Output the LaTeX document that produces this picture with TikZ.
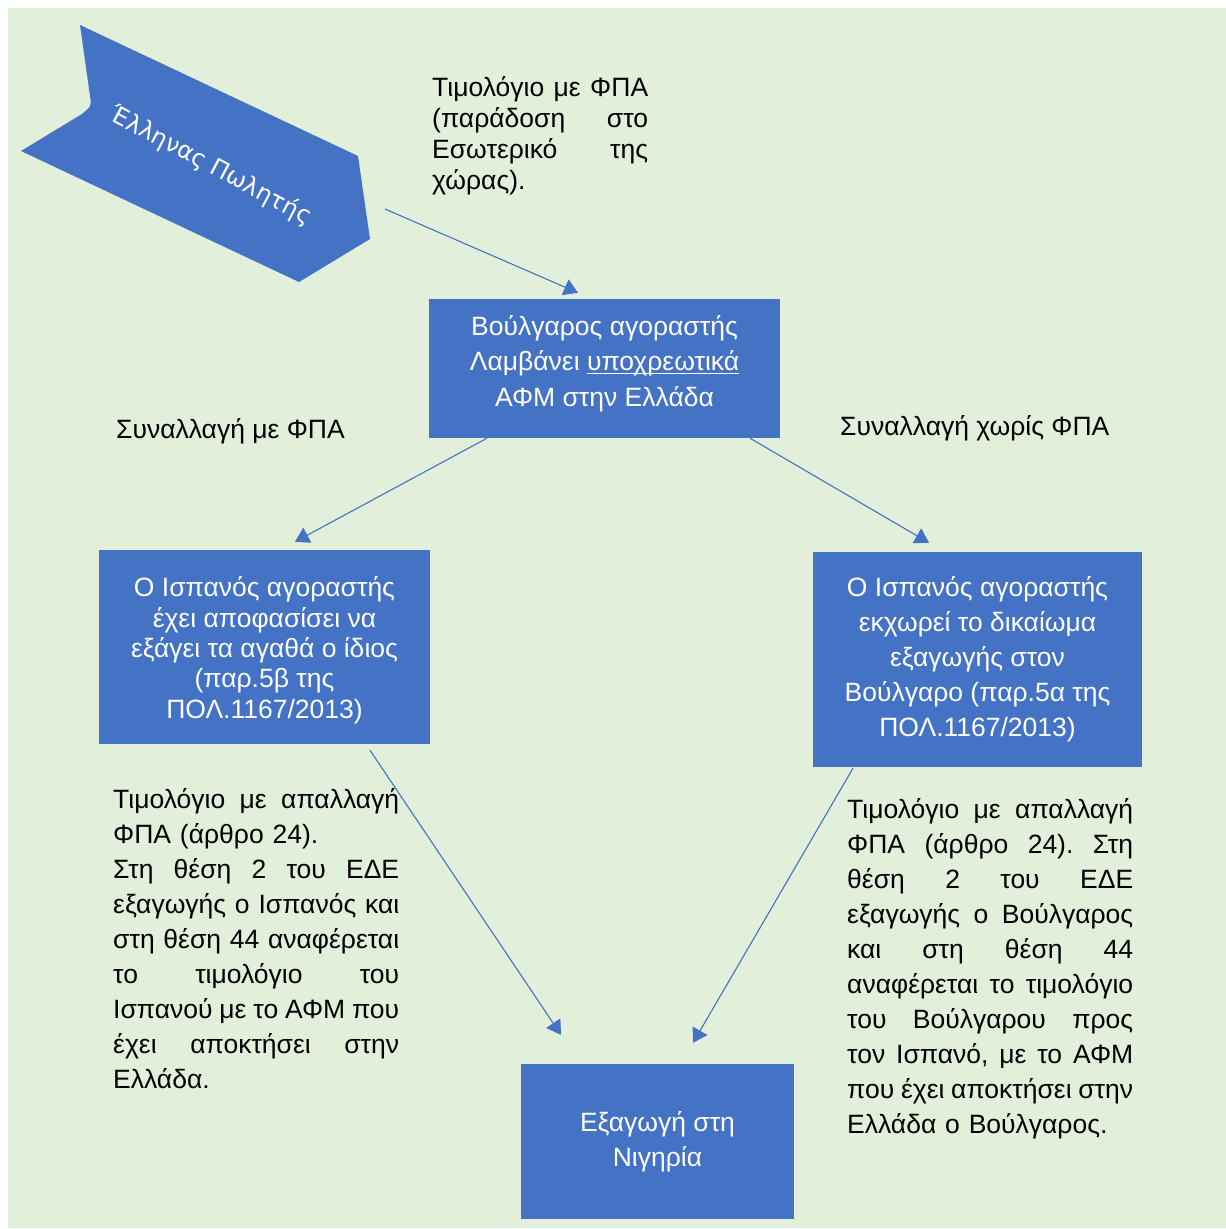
\documentclass[tikz,border=0pt]{standalone}
\usepackage{fontspec}
\setmainfont{Liberation Sans}
\newfontfamily\chevfont{DejaVu Sans}
\usetikzlibrary{arrows.meta,calc}
\definecolor{boxblue}{HTML}{4472C4}
\definecolor{bggreen}{HTML}{E2EFDA}
\frenchspacing
\newcommand\jl[2]{{\frenchspacing\spaceskip=0pt\xspaceskip=0pt\makebox[#1][s]{#2}}}
\newcommand\ulx[1]{\setbox0\hbox{#1}\rlap{\rule[-3.5pt]{\wd0}{1.4pt}}#1}
\begin{document}
\begin{tikzpicture}[x=1pt,y=-1pt,
  box/.style={fill=boxblue, text=white, inner sep=0pt, align=center},
  lbl/.style={text=black, inner sep=0pt, align=left, font=\fontsize{26.5}{35}\selectfont},
  arr/.style={draw=boxblue, line width=1.1pt, -{Triangle[length=14pt,width=17pt]}}]
\useasboundingbox (0,0) rectangle (1226,1229);
\fill[white] (0,0) rectangle (1226,1229);
\fill[bggreen] (8,8) rectangle (1226,1228);

% seller chevron
\fill[boxblue] (80,25) -- (90,96) .. controls (91.5,106) .. (82,114) -- (21,151) -- (299,282) -- (370,239) -- (358,156) -- cycle;
\node[text=white, inner sep=0pt, font=\chevfont\fontsize{24}{28}\selectfont, rotate=-28] (seller) at (211,166) {Έλληνας Πωλητής};

% boxes
\node[box, minimum width=351pt, minimum height=139pt, font=\fontsize{26.5}{35.5}\selectfont] (top) at (604.5,368.5)
  {\strut Βούλγαρος αγοραστής\\Λαμβάνει \ulx{υποχρεωτικά}\\ΑΦΜ στην Ελλάδα\rule[-20pt]{0pt}{20pt}};
\node[box, minimum width=331pt, minimum height=194pt, font=\fontsize{26.5}{30.3}\selectfont] (left) at (264.5,647)
  {\rule{0pt}{30pt}Ο Ισπανός αγοραστής\\έχει αποφασίσει να\\εξάγει τα αγαθά ο ίδιος\\(παρ.5β της\\ΠΟΛ.1167/2013)\strut};
\node[box, minimum width=329pt, minimum height=215pt, font=\fontsize{26.5}{35}\selectfont] (right) at (977.5,659.5)
  {\strut Ο Ισπανός αγοραστής\\εκχωρεί το δικαίωμα\\εξαγωγής στον\\Βούλγαρο (παρ.5α της\\ΠΟΛ.1167/2013)\strut};
\node[box, minimum width=273pt, minimum height=155pt, font=\fontsize{26.5}{35}\selectfont] (bottom) at (657.5,1141.5)
  {\strut Εξαγωγή στη\\Νιγηρία\strut};

% labels
\node[lbl, anchor=north west, text width=216pt, font=\fontsize{26.5}{31}\selectfont] (inv) at (432,74.3)
  {\strut\jl{216pt}{Τιμολόγιο με ΦΠΑ}\\\jl{216pt}{(παράδοση στο}\\\jl{216pt}{Εσωτερικό της}\\χώρας).};
\node[lbl, anchor=base west] (withvat) at (116,438) {Συναλλαγή με ΦΠΑ};
\node[lbl, anchor=base west] (novat) at (840,435) {Συναλλαγή χωρίς ΦΠΑ};
\node[lbl, anchor=north west, text width=286pt] (ltext) at (113,783.5)
  {\strut\jl{286pt}{Τιμολόγιο με απαλλαγή}\\
   ΦΠΑ (άρθρο 24).\\
   \jl{286pt}{Στη θέση 2 του ΕΔΕ}\\
   \jl{286pt}{εξαγωγής ο Ισπανός και}\\
   \jl{286pt}{στη θέση 44 αναφέρεται}\\
   \jl{286pt}{το τιμολόγιο του}\\
   \jl{286pt}{Ισπανού με το ΑΦΜ που}\\
   \jl{286pt}{έχει αποκτήσει στην}\\
   Ελλάδα.};
\node[lbl, anchor=north west, text width=286pt] (rtext) at (847,793.5)
  {\strut\jl{286pt}{Τιμολόγιο με απαλλαγή}\\
   \jl{286pt}{ΦΠΑ (άρθρο 24). Στη}\\
   \jl{286pt}{θέση 2 του ΕΔΕ}\\
   \jl{286pt}{εξαγωγής ο Βούλγαρος}\\
   \jl{286pt}{και στη θέση 44}\\
   \jl{286pt}{αναφέρεται το τιμολόγιο}\\
   \jl{286pt}{του Βούλγαρου προς}\\
   \jl{286pt}{τον Ισπανό, με το ΑΦΜ}\\
   \jl{286pt}{που έχει αποκτήσει στην}\\
   Ελλάδα ο Βούλγαρος.};

% connectors
\coordinate (a0) at (385,209);
\draw[arr] (a0) -- ([xshift=-26.5pt,yshift=6pt]top.north);
\draw[arr] ([xshift=-117.5pt]top.south) -- ([xshift=30.5pt,yshift=8pt]left.north);
\draw[arr] ([xshift=145.5pt]top.south) -- ([xshift=-48.5pt,yshift=9pt]right.north);
\draw[arr] ([xshift=105.5pt,yshift=-6pt]left.south) -- ([xshift=-96.5pt,yshift=29pt]bottom.north);
\draw[arr] ([xshift=-124.5pt,yshift=-1pt]right.south) -- ([xshift=35.5pt,yshift=21pt]bottom.north);
\end{tikzpicture}
\end{document}
